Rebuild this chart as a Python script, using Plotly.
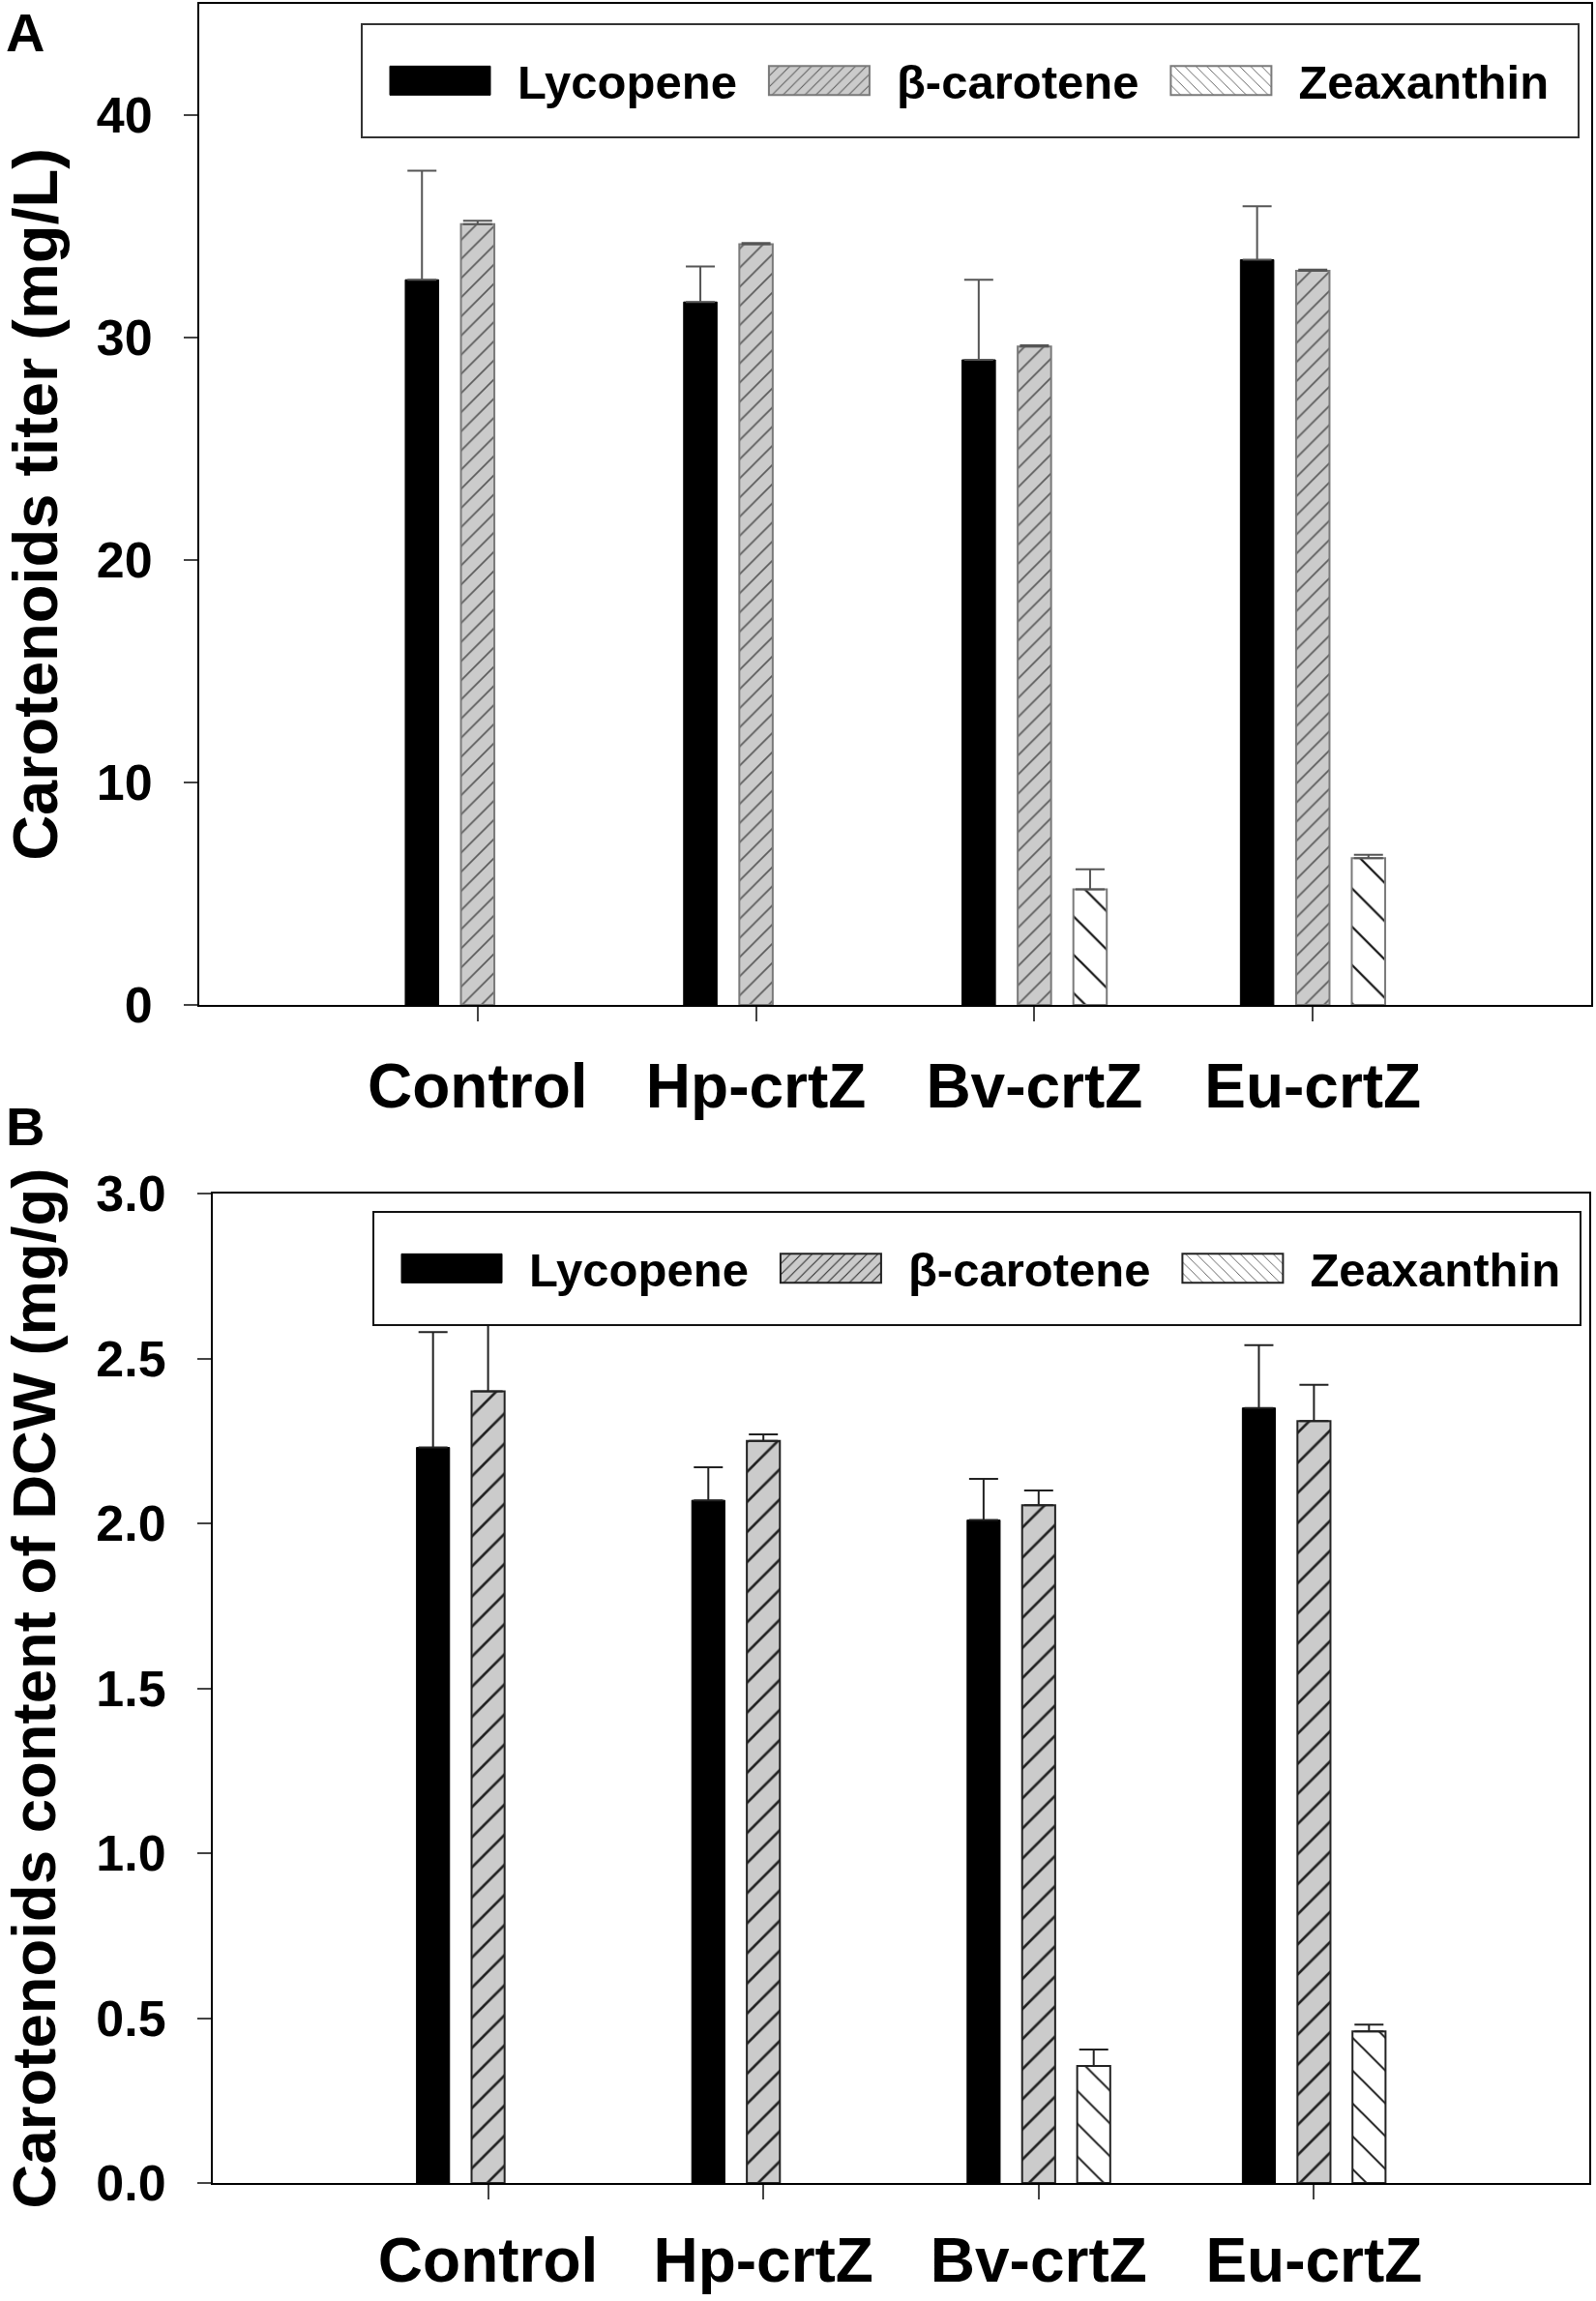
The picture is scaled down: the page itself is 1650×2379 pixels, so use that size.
import plotly.graph_objects as go

# ---------------- data ----------------
categories = ["Control", "Hp-crtZ", "Bv-crtZ", "Eu-crtZ"]
series_names = ["Lycopene", "β-carotene", "Zeaxanthin"]

# Panel A: carotenoids titer (mg/L)
lyc_titer = [32.6, 31.6, 29.0, 33.5]
lyc_titer_err = [4.9, 1.6, 3.6, 2.4]
bcar_titer = [35.1, 34.2, 29.6, 33.0]
bcar_titer_err = [0.15, 0.05, 0.05, 0.05]
zea_titer = [None, None, 5.2, 6.6]
zea_titer_err = [None, None, 0.9, 0.15]

# Panel B: carotenoids content of DCW (mg/g)
lyc_content = [2.23, 2.07, 2.01, 2.35]
lyc_content_err = [0.35, 0.10, 0.125, 0.19]
bcar_content = [2.40, 2.25, 2.055, 2.31]
bcar_content_err = [0.30, 0.02, 0.045, 0.11]
zea_content = [None, None, 0.355, 0.46]
zea_content_err = [None, None, 0.05, 0.02]

y_title_a = "Carotenoids titer (mg/L)"
y_title_b = "Carotenoids content of DCW (mg/g)"

# ---------------- styling ----------------
W, H = 1650, 2379
FONT = "Liberation Sans, Arial, Helvetica, sans-serif"


def px_x(v):
    return v / W


def px_y(v):
    return 1 - v / H


def zeros(lst):
    return [0 if v is not None else None for v in lst]


def add_panel(fig, xa, ya, legend, vals, errs, line_gray, hatch_fg, bc_size, zea_size, err_color):
    lyc, bc, zea = vals
    le, be, ze = errs
    common = dict(x=categories, xaxis=xa, yaxis=ya, legend=legend)
    fig.add_trace(go.Bar(
        name=series_names[0], y=lyc, **common,
        marker=dict(color="black", line=dict(color="black", width=1)),
        error_y=dict(type="data", symmetric=False, array=le, arrayminus=zeros(le),
                     color=err_color, thickness=2, width=15),
    ))
    fig.add_trace(go.Bar(
        name=series_names[1], y=bc, **common,
        marker=dict(color="#cbcbcb", line=dict(color=line_gray, width=2),
                    pattern=dict(shape="/", fgcolor=hatch_fg, bgcolor="#cbcbcb",
                                 size=bc_size, solidity=0.12, fillmode="replace")),
        error_y=dict(type="data", symmetric=False, array=be, arrayminus=zeros(be),
                     color=err_color, thickness=2, width=15),
    ))
    fig.add_trace(go.Bar(
        name=series_names[2], y=zea, **common,
        marker=dict(color="white", line=dict(color=line_gray, width=2),
                    pattern=dict(shape="\\", fgcolor="#111111", bgcolor="white",
                                 size=zea_size, solidity=0.08, fillmode="replace")),
        error_y=dict(type="data", symmetric=False, array=ze, arrayminus=zeros(ze),
                     color=err_color, thickness=2, width=15),
    ))


fig = go.Figure()
add_panel(fig, "x", "y", "legend",
          (lyc_titer, bcar_titer, zea_titer),
          (lyc_titer_err, bcar_titer_err, zea_titer_err),
          line_gray="#7a7a7a", hatch_fg="#5a5a5a", bc_size=14, zea_size=28,
          err_color="#555555")
add_panel(fig, "x2", "y2", "legend2",
          (lyc_content, bcar_content, zea_content),
          (lyc_content_err, bcar_content_err, zea_content_err),
          line_gray="#222222", hatch_fg="#222222", bc_size=22, zea_size=24,
          err_color="#222222")

tickfont_x = dict(family=FONT, size=64, color="black", weight="bold")
tickfont_y = dict(family=FONT, size=52, color="black", weight="bold")
legendfont = dict(family=FONT, size=49, color="black", weight="bold")

xcommon = dict(type="category", range=[-1, 4], showline=True, linecolor="black",
               linewidth=2, mirror=True, ticks="outside", ticklen=15, tickwidth=2,
               tickcolor="#444444", tickfont=tickfont_x, showgrid=False,
               zeroline=False, automargin=False)
ycommon = dict(showline=True, linecolor="black", linewidth=2, mirror=True,
               ticks="outside", ticklen=14, tickwidth=2, tickcolor="#444444",
               tickfont=tickfont_y, showgrid=False, zeroline=False,
               ticklabelstandoff=22, automargin=False)

legend_common = dict(orientation="h", xanchor="left", yanchor="top",
                     bgcolor="white", borderwidth=2, font=legendfont,
                     itemwidth=150)

fig.update_layout(
    width=W, height=H,
    margin=dict(l=0, r=0, t=0, b=0, autoexpand=False),
    paper_bgcolor="white", plot_bgcolor="white",
    barmode="group", bargap=0.4, bargroupgap=0.4,
    font=dict(family=FONT, color="black"),
    xaxis=dict(domain=[px_x(206), px_x(1645)], anchor="y", ticklabelstandoff=12, **xcommon),
    yaxis=dict(domain=[px_y(1039), px_y(4)], anchor="x", range=[0, 45], dtick=10,
               title=dict(text=y_title_a, standoff=57,
                          font=dict(family=FONT, size=65, color="black", weight="bold")),
               **ycommon),
    xaxis2=dict(domain=[px_x(220), px_x(1643)], anchor="y2", ticklabelstandoff=8, **xcommon),
    yaxis2=dict(domain=[px_y(2257), px_y(1234)], anchor="x2", range=[0, 3], dtick=0.5,
                tickformat=".1f",
                title=dict(text=y_title_b, standoff=57,
                           font=dict(family=FONT, size=63.5, color="black", weight="bold")),
                **ycommon),
    legend=dict(x=px_x(373), y=px_y(43), bordercolor="#333333", **legend_common),
    legend2=dict(x=px_x(385), y=px_y(1271), bordercolor="#111111", **legend_common),
    annotations=[
        dict(text="A", x=px_x(4), y=px_y(0), xref="paper", yref="paper",
             xanchor="left", yanchor="top", showarrow=False,
             font=dict(family=FONT, size=56, color="black", weight="bold")),
        dict(text="B", x=px_x(4), y=px_y(1131), xref="paper", yref="paper",
             xanchor="left", yanchor="top", showarrow=False,
             font=dict(family=FONT, size=56, color="black", weight="bold")),
    ],
)

# page without default body margin; enlarge legend swatches and frames to match
# the reference's SigmaPlot-style legend
post = """
document.body.style.margin = '0px';
document.documentElement.style.overflow = 'hidden';
var gd = document.getElementById('{plot_id}');
var boxW = {legend: 1258, legend2: 1248};
function fixLegends(){
  ['legend', 'legend2'].forEach(function(cls){
    var lg = gd.querySelector('g.' + cls);
    if(!lg) return;
    lg.querySelectorAll('g.legendpoints path').forEach(function(p){
      p.setAttribute('d', 'M52,15H-52V-15H52Z');
    });
    var sb = lg.querySelector('g.scrollbox');
    if(sb) sb.removeAttribute('clip-path');
    var bg = lg.querySelector('rect.bg');
    if(bg){
      var h = parseFloat(bg.getAttribute('height'));
      if(bg.getAttribute('data-fixed-h') !== String(h)){
        var nh = h + 38;
        bg.setAttribute('y', parseFloat(bg.getAttribute('y')) - 19);
        bg.setAttribute('height', nh);
        bg.setAttribute('width', boxW[cls]);
        bg.setAttribute('data-fixed-h', String(nh));
      }
    }
  });
}
fixLegends();
gd.on('plotly_afterplot', fixLegends);
"""

fig.write_html("out.html", post_script=post, config={"displayModeBar": False})
